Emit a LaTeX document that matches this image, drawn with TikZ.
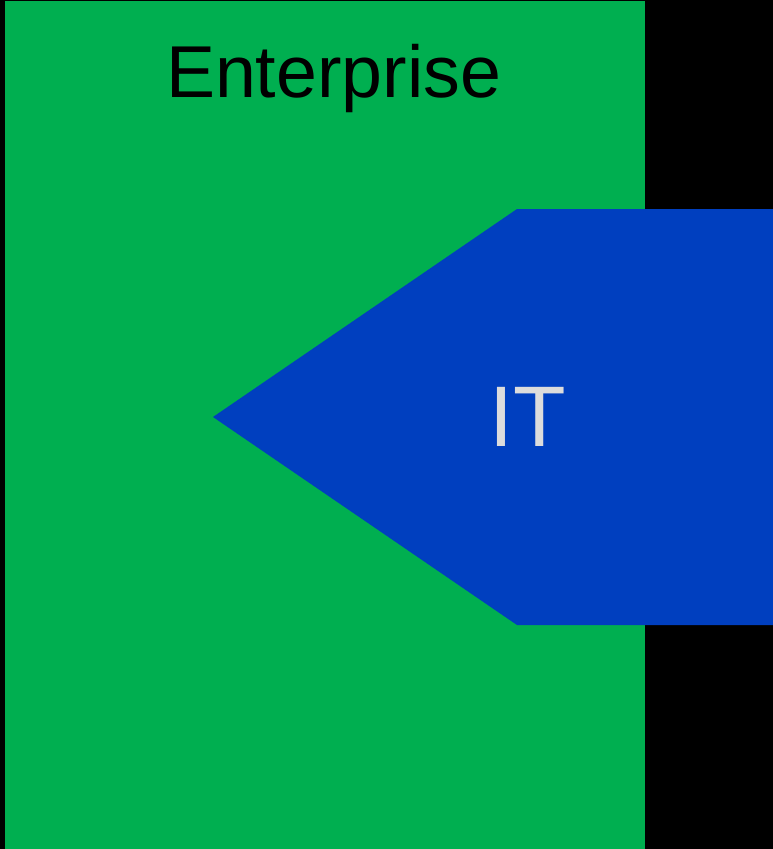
\documentclass[tikz,border=0pt]{standalone}
\usepackage{fontspec}
\setmainfont{Liberation Sans}
\definecolor{entgreen}{HTML}{00AF50}
\definecolor{itblue}{HTML}{003FBF}
\definecolor{itgray}{HTML}{DCDCDC}
\begin{document}
\begin{tikzpicture}[x=1pt,y=-1pt,
  label/.style={inner sep=0pt, anchor=base}]
\useasboundingbox (0,0) rectangle (773,849);
\fill[black] (0,0) rectangle (773,849);
\fill[entgreen] (5,1) rectangle (645,849);
\fill[itblue] (213,417) -- (517,209) -- (773,209) -- (773,625) -- (517,625) -- cycle;
\node[label, text=black, font=\fontsize{73.5}{80}\selectfont] (ent) at (333.5,97) {Enterprise};
\node[label, text=itgray, font=\fontsize{86}{96}\selectfont] (it) at (528,446) {IT};
\end{tikzpicture}
\end{document}
